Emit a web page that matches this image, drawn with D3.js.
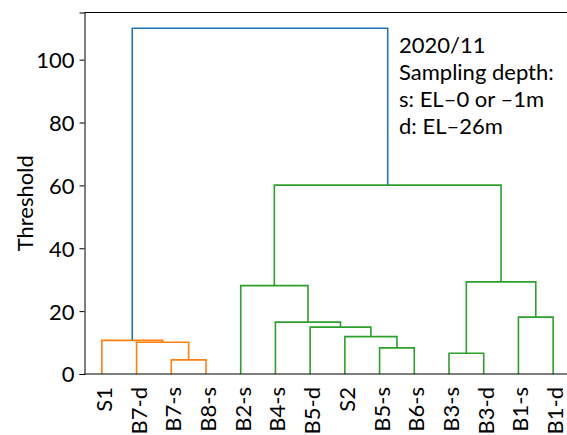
<!DOCTYPE html>
<html>
<head>
<meta charset="utf-8">
<script src="https://cdn.jsdelivr.net/npm/d3@7"></script>
<style>
  body { margin: 0; background: #fff; }
  text { font-family: Lato, "Open Sans", sans-serif; fill: #000; }
</style>
</head>
<body>
<svg id="svg" width="567" height="435"></svg>
<script>
// leaves in display order
const leafLabels = ["S1", "B7-d", "B7-s", "B8-s", "B2-s", "B4-s", "B5-d", "S2", "B5-s", "B6-s", "B3-s", "B3-d", "B1-s", "B1-d"];

// merges like a scipy linkage: [left child, right child, height]; new cluster ids start at 14
const links = [
  [2, 3, 4.5],
  [10, 11, 6.6],
  [8, 9, 8.3],
  [1, 14, 10.1],
  [0, 17, 10.7],
  [7, 16, 11.9],
  [6, 19, 14.9],
  [5, 20, 16.5],
  [12, 13, 18.1],
  [4, 21, 28.1],
  [15, 22, 29.3],
  [23, 24, 60.1],
  [18, 25, 110]
];
const linkColors = ["#ff7f0e", "#2ca02c", "#2ca02c", "#ff7f0e", "#ff7f0e", "#2ca02c", "#2ca02c",
                    "#2ca02c", "#2ca02c", "#2ca02c", "#2ca02c", "#2ca02c", "#1f77b4"];

const yTicks = [0, 20, 40, 60, 80, 100];
const noteLines = ["2020/11", "Sampling depth:", "s: EL\u20130 or \u20131m", "d: EL\u201326m"];

const width = 567, height = 435;
const plotLeft = 84.5, plotTop = 12.5, plotW = 486, plotBottom = 374;

const x = d3.scaleLinear().domain([0, leafLabels.length]).range([plotLeft, plotLeft + plotW]);
const y = d3.scaleLinear().domain([0, 115]).range([plotBottom, plotTop]);

const svg = d3.select("#svg");

// positions of every node (leaves then clusters)
const nodeX = leafLabels.map((d, i) => x(i + 0.5));
const nodeH = leafLabels.map(() => 0);
links.forEach(l => {
  nodeX.push((nodeX[l[0]] + nodeX[l[1]]) / 2);
  nodeH.push(l[2]);
});

svg.append("g")
  .selectAll("path")
  .data(links)
  .join("path")
  .attr("fill", "none")
  .attr("stroke", (d, i) => linkColors[i])
  .attr("stroke-width", 1.6)
  .attr("d", d => {
    const x1 = nodeX[d[0]], x2 = nodeX[d[1]];
    return `M${x1},${y(nodeH[d[0]])}V${y(d[2])}H${x2}V${y(nodeH[d[1]])}`;
  });

// spines
svg.append("line").attr("x1", plotLeft).attr("x2", width).attr("y1", plotTop).attr("y2", plotTop)
  .attr("stroke", "#000").attr("stroke-width", 1);
svg.append("line").attr("x1", plotLeft).attr("x2", width).attr("y1", plotBottom).attr("y2", plotBottom)
  .attr("stroke", "#000").attr("stroke-width", 1);

// y axis
const yAxis = svg.append("g")
  .attr("transform", `translate(${plotLeft},0)`)
  .call(d3.axisLeft(y).tickValues(yTicks).tickSize(5).tickPadding(5));
yAxis.select(".domain").attr("stroke", "#000");
yAxis.selectAll("text").style("font-size", "22px").attr("dy", "0.36em");

svg.append("text")
  .attr("transform", `translate(33,${(plotTop + plotBottom) / 2 + 10}) rotate(-90)`)
  .attr("text-anchor", "middle")
  .style("font-size", "22px")
  .text("Threshold");

// leaf labels
svg.append("g")
  .selectAll("text")
  .data(leafLabels)
  .join("text")
  .attr("transform", (d, i) => `translate(${x(i + 0.5) + 10},${plotBottom + 13}) rotate(-90)`)
  .attr("text-anchor", "end")
  .style("font-size", "22px")
  .text(d => d);

// note
svg.append("g")
  .selectAll("text")
  .data(noteLines)
  .join("text")
  .attr("x", 399)
  .attr("y", (d, i) => 53 + i * 27)
  .style("font-size", "22px")
  .text(d => d);
</script>
</body>
</html>
